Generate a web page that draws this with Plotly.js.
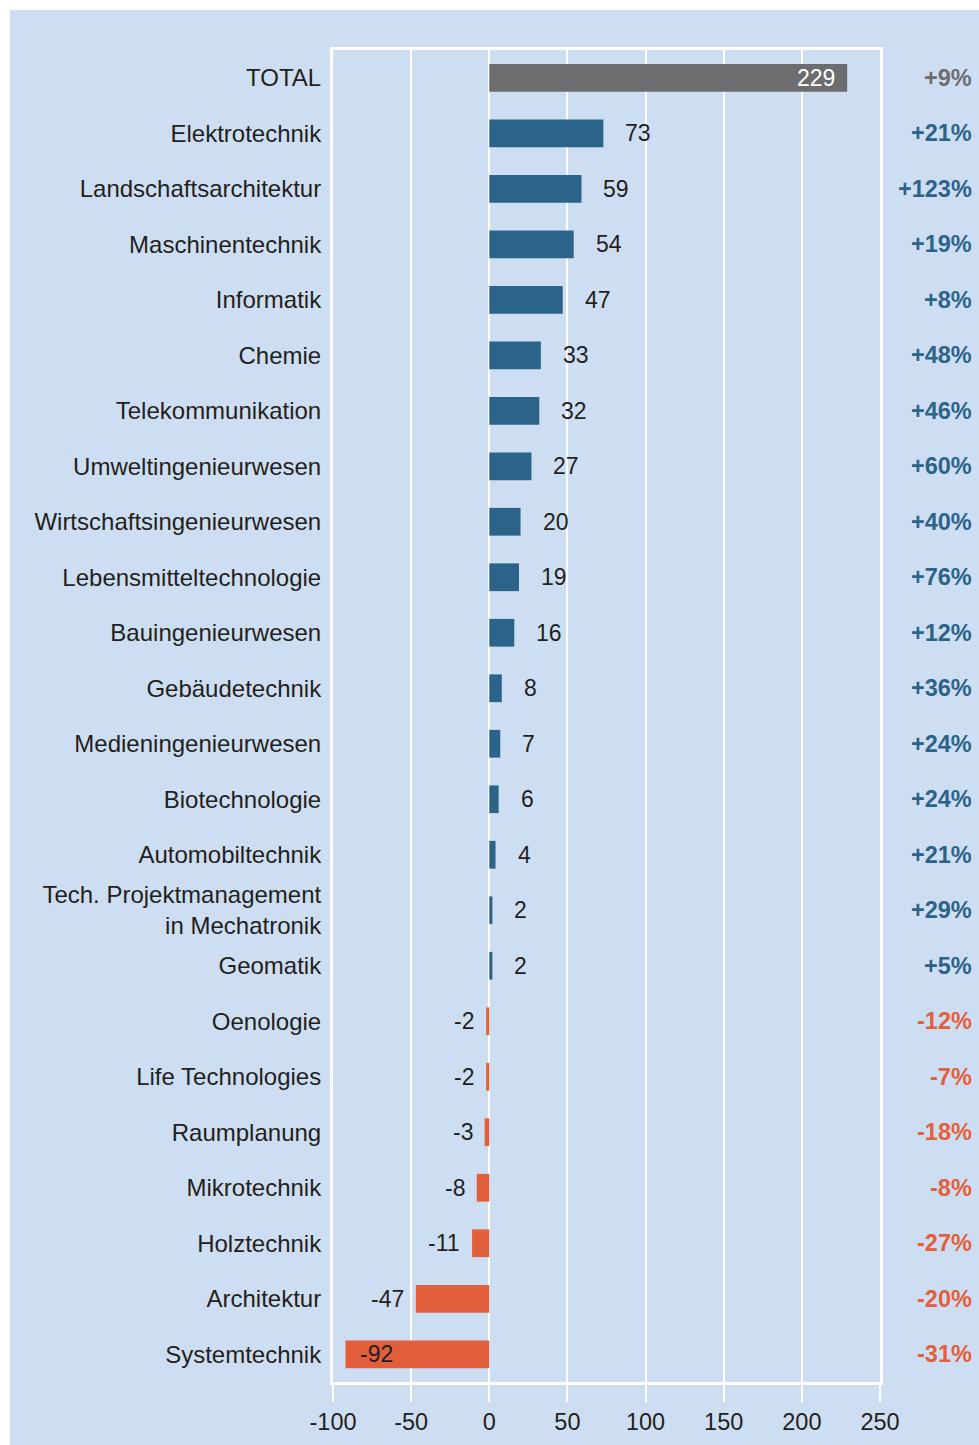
<!DOCTYPE html>
<html>
<head>
<meta charset="utf-8">
<script src="https://cdn.plot.ly/plotly-3.0.1.min.js"></script>
<style>
html,body{margin:0;padding:0;background:#ffffff;}
#chart{position:absolute;left:10px;top:10px;width:969px;height:1435px;}
</style>
</head>
<body>
<div id="chart"></div>
<script>
const categories = [
  "TOTAL","Elektrotechnik","Landschaftsarchitektur","Maschinentechnik","Informatik","Chemie",
  "Telekommunikation","Umweltingenieurwesen","Wirtschaftsingenieurwesen","Lebensmitteltechnologie",
  "Bauingenieurwesen","Gebäudetechnik","Medieningenieurwesen","Biotechnologie","Automobiltechnik",
  "Tech. Projektmanagement<br>in Mechatronik","Geomatik","Oenologie","Life Technologies","Raumplanung",
  "Mikrotechnik","Holztechnik","Architektur","Systemtechnik"
];
const values = [229,73,59,54,47,33,32,27,20,19,16,8,7,6,4,2,2,-2,-2,-3,-8,-11,-47,-92];
const percentLabels = ["+9%","+21%","+123%","+19%","+8%","+48%","+46%","+60%","+40%","+76%","+12%",
  "+36%","+24%","+24%","+21%","+29%","+5%","-12%","-7%","-18%","-8%","-27%","-20%","-31%"];
const xTicks = [-100,-50,0,50,100,150,200,250];

const GRAY = "#6d6d6f", BLUE = "#2c6389", ORANGE = "#e35f3b";
const TXT = "#231f20";
const FONT = "Liberation Sans, Arial, Helvetica, sans-serif";
const colorFor = (v, i) => i === 0 ? GRAY : (v >= 0 ? BLUE : ORANGE);
const colors = values.map(colorFor);

const annotations = [];
values.forEach((v, i) => {
  const cat = categories[i];
  let a = {x: v, y: cat, xref: "x", yref: "y", text: String(v), showarrow: false,
           font: {family: FONT, size: 23, color: TXT}};
  if (i === 0) { a.xanchor = "right"; a.xshift = -10; a.font.color = "#ffffff"; }
  else if (v <= -50) { a.xanchor = "left"; a.xshift = 12; }
  else if (v >= 0) { a.xanchor = "left"; a.xshift = 20; }
  else { a.xanchor = "right"; a.xshift = -10; }
  annotations.push(a);
  annotations.push({x: 1.172, y: cat, xref: "paper", yref: "y", text: "<b>" + percentLabels[i] + "</b>",
    showarrow: false, xanchor: "right", font: {family: FONT, size: 23.5, color: colors[i]}});
});

const trace = {
  type: "bar", orientation: "h", x: values, y: categories,
  marker: {color: colors, line: {width: 0}}, width: 0.5, hoverinfo: "skip"
};

const layout = {
  width: 969, height: 1435,
  margin: {l: 323, r: 99, t: 40, b: 63},
  paper_bgcolor: "#cedef2", plot_bgcolor: "#cedef2",
  showlegend: false,
  font: {family: FONT, color: TXT, size: 23},
  xaxis: {
    range: [-100, 250], tickvals: xTicks, ticktext: xTicks.map(String),
    showgrid: true, gridcolor: "#ffffff", gridwidth: 2,
    zeroline: true, zerolinecolor: "#ffffff", zerolinewidth: 2,
    showline: true, mirror: true, linecolor: "#ffffff", linewidth: 3,
    ticks: "outside", ticklen: 17, tickwidth: 2, tickcolor: "#ffffff",
    tickfont: {family: FONT, size: 23.5, color: TXT}, fixedrange: true
  },
  yaxis: {
    type: "category", categoryorder: "array", categoryarray: categories,
    autorange: "reversed", showgrid: false, zeroline: false,
    showline: true, mirror: true, linecolor: "#ffffff", linewidth: 3,
    ticks: "outside", ticklen: 4, tickcolor: "rgba(0,0,0,0)",
    tickfont: {family: FONT, size: 24, color: TXT}, fixedrange: true
  },
  annotations: annotations
};

Plotly.newPlot("chart", [trace], layout, {displayModeBar: false, staticPlot: true});
</script>
</body>
</html>
